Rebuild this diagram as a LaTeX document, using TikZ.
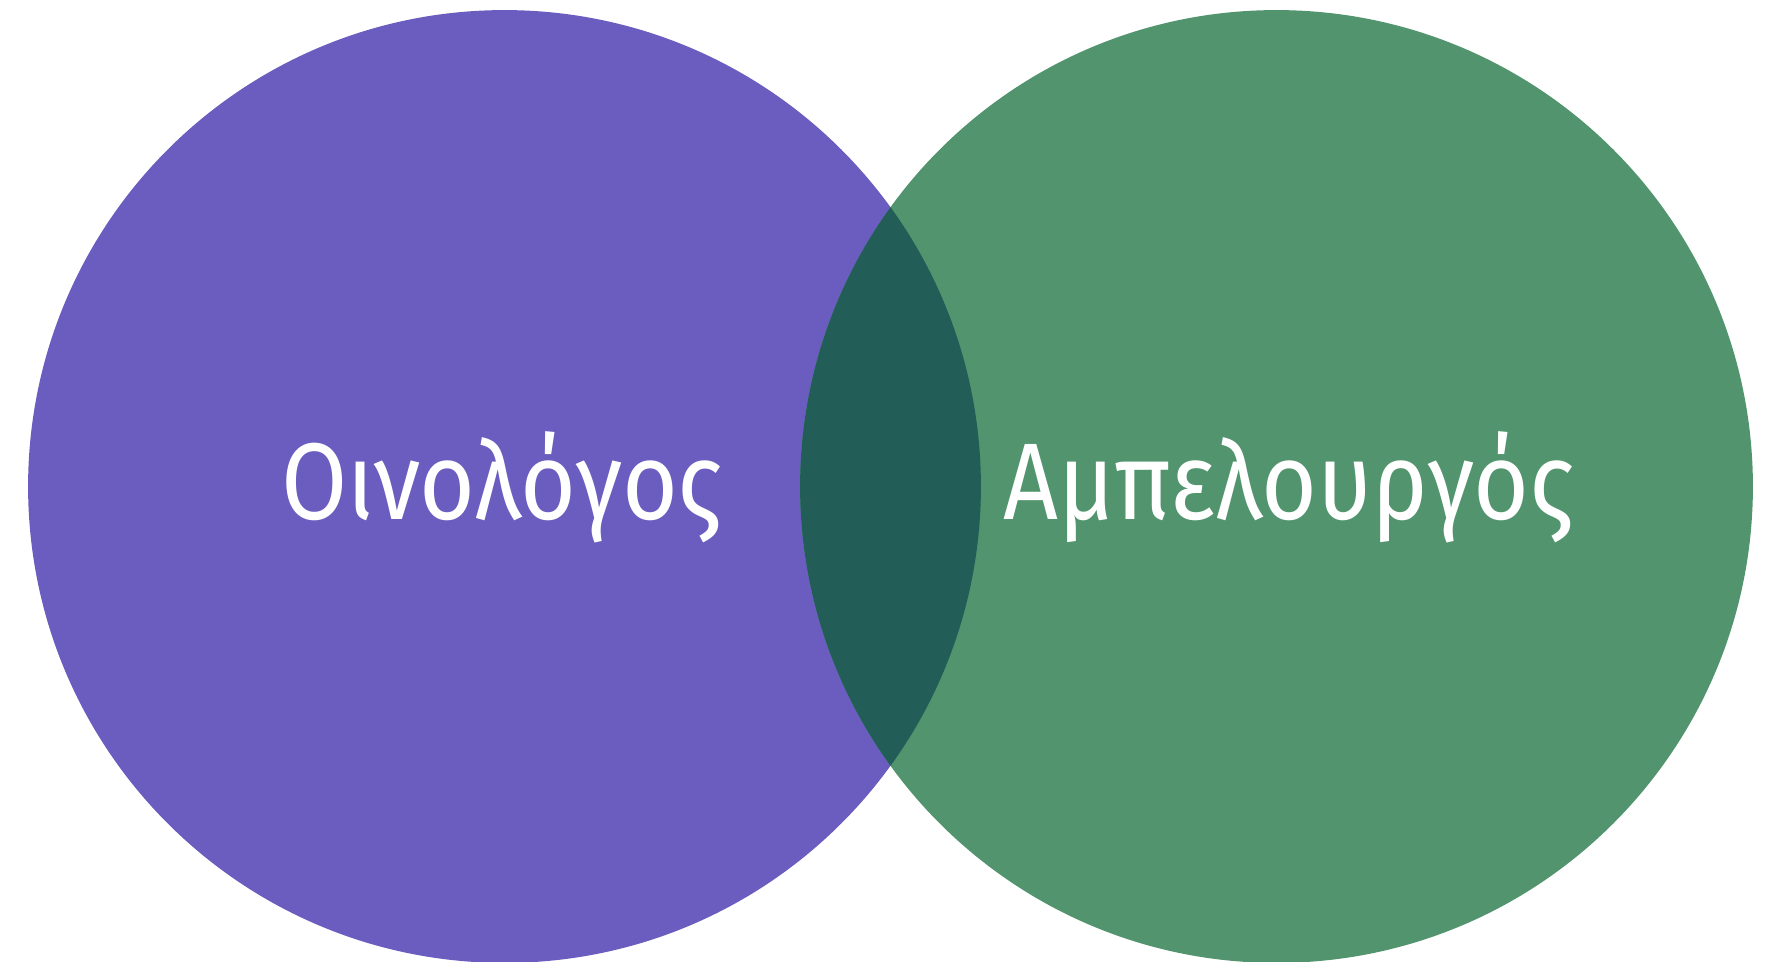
\documentclass[tikz,border=0pt]{standalone}
\usepackage{fontspec}
\setmainfont{Fira Sans}[FakeStretch=0.88]
\definecolor{vpurple}{RGB}{106,93,191}
\definecolor{vgreen}{RGB}{81,148,109}
\definecolor{vdark}{RGB}{34,94,87}
\begin{document}
\begin{tikzpicture}[x=0.02cm,y=-0.02cm,
  lbl/.style={font=\fontsize{62}{74}\selectfont, text=white, inner sep=0pt, anchor=base}]
\useasboundingbox (0,0) rectangle (1775,962);
\fill[vpurple] (504.5,486.5) circle (9.53cm);
\fill[vgreen] (1276.5,486.5) circle (9.53cm);
\begin{scope}
\clip (504.5,486.5) circle (9.53cm);
\fill[vdark] (1276.5,486.5) circle (9.53cm);
\end{scope}
\node[lbl] (a) at (502,520) {Οινολόγος};
\node[lbl] (b) at (1289,520) {Αμπελουργός};
\end{tikzpicture}
\end{document}
